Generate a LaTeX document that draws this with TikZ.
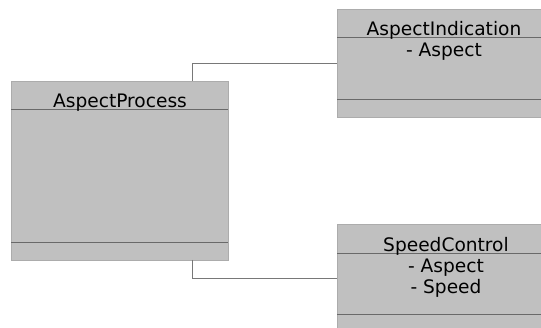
\documentclass[tikz,border=0pt]{standalone}
\usepackage{fontspec}
\setmainfont{DejaVu Sans}
\definecolor{boxfill}{RGB}{192,192,192}
\definecolor{boxedge}{RGB}{172,172,172}
\definecolor{divline}{RGB}{105,105,105}
\definecolor{connline}{RGB}{120,120,120}
\begin{document}
\begin{tikzpicture}[x=1pt,y=-1pt,
  umlbox/.style={draw=boxedge, line width=0.6pt, fill=boxfill, anchor=north west, inner sep=0pt, outer sep=0pt},
  divider/.style={draw=divline, line width=0.9pt},
  conn/.style={draw=connline, line width=0.9pt},
  umltext/.style={font=\fontsize{18.6}{22}\selectfont, text=black, inner sep=0pt, anchor=base}]
  \useasboundingbox[fill=white] (0,0) rectangle (541,328);

  % classes
  \node[umlbox, minimum width=217pt, minimum height=179pt] (proc) at (11,81) {};
  \node[umlbox, minimum width=205pt, minimum height=108pt] (ind) at (337,9) {};
  \node[umlbox, minimum width=205pt, minimum height=110pt] (spd) at (337,224) {};

  % compartment dividers
  \draw[divider] (11,109) -- (228,109);
  \draw[divider] (11,242) -- (228,242);
  \draw[divider] (337,37) -- (541,37);
  \draw[divider] (337,99) -- (541,99);
  \draw[divider] (337,253) -- (541,253);
  \draw[divider] (337,314) -- (541,314);

  % names and attributes
  \node[umltext] (procname) at (120,108) {AspectProcess};
  \node[umltext] (indname) at (444,35.5) {AspectIndication};
  \node[umltext] (indattr) at (444,56.5) {- Aspect};
  \node[umltext] (spdname) at (446,251.5) {SpeedControl};
  \node[umltext] (spdattr1) at (446,273) {- Aspect};
  \node[umltext] (spdattr2) at (446,294) {- Speed};

  % associations
  \coordinate (topbend) at (192,63);
  \coordinate (botbend) at (192,278);
  \draw[conn] (proc.north -| topbend) -- (topbend) -- (ind.west |- topbend);
  \draw[conn] (proc.south -| botbend) -- (botbend) -- (spd.west |- botbend);
\end{tikzpicture}
\end{document}
